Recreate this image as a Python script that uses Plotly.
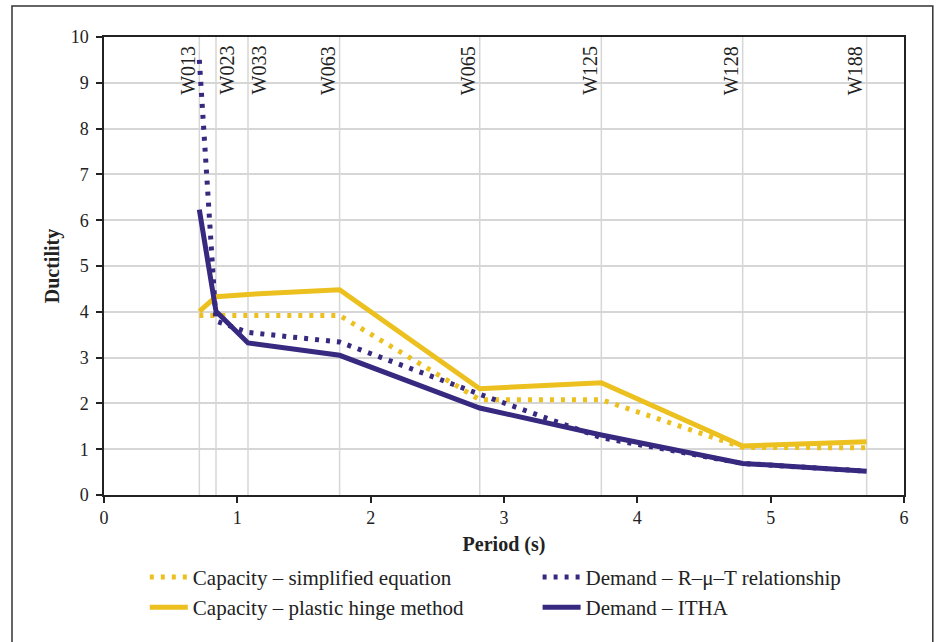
import plotly.graph_objects as go

walls = ["W013", "W023", "W033", "W063", "W065", "W125", "W128", "W188"]
period = [0.715, 0.84, 1.08, 1.767, 2.818, 3.73, 4.79, 5.72]

cap_simplified = [3.92, 3.92, 3.92, 3.92, 2.08, 2.08, 1.04, 1.03]
cap_hinge = [4.01, 4.33, 4.38, 4.48, 2.32, 2.45, 1.07, 1.16]
dem_rmut = [9.5, 3.8, 3.55, 3.34, 2.2, 1.25, 0.69, 0.52]
dem_itha = [6.23, 4.01, 3.32, 3.05, 1.90, 1.31, 0.69, 0.52]

# which side of its guide line each wall label sits on
label_side = ["left", "right", "right", "left", "left", "left", "left", "left"]

YEL = "#EBC01F"
NAVY = "#37297F"
FONT = "Liberation Serif"
DOT = "4px,7px"

fig = go.Figure()
fig.add_trace(go.Scatter(x=period, y=cap_simplified, mode="lines",
                         name="Capacity – simplified equation", legend="legend",
                         line=dict(color=YEL, width=5, dash=DOT)))
fig.add_trace(go.Scatter(x=period, y=cap_hinge, mode="lines",
                         name="Capacity – plastic hinge method", legend="legend",
                         line=dict(color=YEL, width=5)))
fig.add_trace(go.Scatter(x=period, y=dem_rmut, mode="lines",
                         name="Demand – R–μ–T relationship", legend="legend2",
                         line=dict(color=NAVY, width=5, dash=DOT)))
fig.add_trace(go.Scatter(x=period, y=dem_itha, mode="lines",
                         name="Demand – ITHA", legend="legend2",
                         line=dict(color=NAVY, width=5)))

shapes = []
annotations = []
for w, p, side in zip(walls, period, label_side):
    shapes.append(dict(type="line", xref="x", yref="y", x0=p, x1=p, y0=0, y1=10,
                       line=dict(color="#d6d6d6", width=1.5), layer="below"))
    annotations.append(dict(x=p, y=1, xref="x", yref="paper", text=w, showarrow=False,
                            textangle=-90,
                            xanchor="right" if side == "left" else "left",
                            yanchor="top",
                            xshift=1 if side == "left" else -3, yshift=-7,
                            font=dict(family=FONT, size=20, color="#222")))

# outer frame
shapes.append(dict(type="rect", xref="paper", yref="paper", x0=-0.115, x1=1.036,
                   y0=-0.6, y1=1.0676, line=dict(color="#333", width=1.5),
                   fillcolor="rgba(0,0,0,0)", layer="below"))

legend_common = dict(orientation="v", xanchor="left", yanchor="top",
                     font=dict(family=FONT, size=21, color="#222"),
                     traceorder="normal", itemwidth=38,
                     bgcolor="rgba(0,0,0,0)")

fig.update_layout(
    width=940, height=642,
    margin=dict(l=104, r=36, t=37, b=147, autoexpand=False),
    paper_bgcolor="white", plot_bgcolor="white",
    font=dict(family=FONT, size=18, color="#222"),
    shapes=shapes, annotations=annotations,
    showlegend=True,
    legend=dict(x=0.051, y=-0.135, **legend_common),
    legend2=dict(x=0.542, y=-0.135, **legend_common),
    xaxis=dict(range=[0, 6], dtick=1, tick0=0, showgrid=False, zeroline=False,
               showline=True, linecolor="#222", linewidth=1.5, mirror=True,
               ticks="outside", ticklen=6, tickcolor="#222", tickwidth=1.5,
               tickfont=dict(family=FONT, size=18),
               title=dict(text="<b>Period (s)</b>", font=dict(family=FONT, size=20), standoff=10)),
    yaxis=dict(range=[0, 10], dtick=1, tick0=0, showgrid=True, gridcolor="#d6d6d6",
               gridwidth=1.5, zeroline=False,
               showline=True, linecolor="#222", linewidth=1.5, mirror=True,
               ticks="outside", ticklen=6, tickcolor="#222", tickwidth=1.5,
               ticklabelstandoff=4,
               tickfont=dict(family=FONT, size=18),
               title=dict(text="<b>Ductility</b>", font=dict(family=FONT, size=20), standoff=6)),
)

fig.write_html("out.html")
